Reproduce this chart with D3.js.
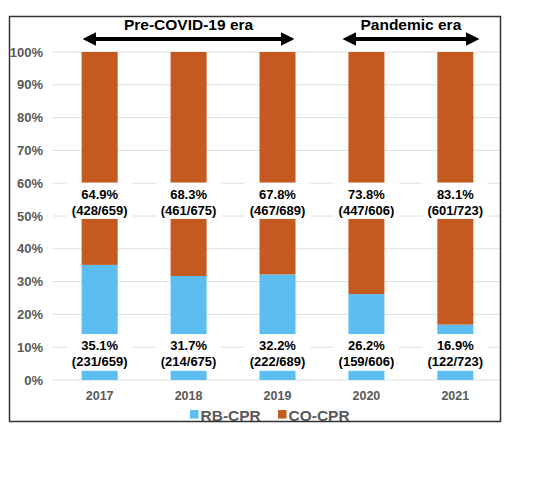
<!DOCTYPE html>
<html>
<head>
<meta charset="utf-8">
<script src="https://cdn.jsdelivr.net/npm/d3@7"></script>
<style>
body { margin: 0; background: #fff; }
text { font-family: "Liberation Sans", Arial, sans-serif; }
</style>
</head>
<body>
<script>
// data
var years = ["2017", "2018", "2019", "2020", "2021"];
var rbPct = [35.1, 31.7, 32.2, 26.2, 16.9];
var coPct = [64.9, 68.3, 67.8, 73.8, 83.1];
var rbLabel = ["(231/659)", "(214/675)", "(222/689)", "(159/606)", "(122/723)"];
var coLabel = ["(428/659)", "(461/675)", "(467/689)", "(447/606)", "(601/723)"];
var yTicks = [0, 10, 20, 30, 40, 50, 60, 70, 80, 90, 100];
var eras = [
  { name: "Pre-COVID-19 era", from: "2017", to: "2019" },
  { name: "Pandemic era", from: "2020", to: "2021" }
];

var blue = "#5bbdf0", brown = "#c55a20";

var svg = d3.select("body").append("svg").attr("width", 533).attr("height", 480);

var x = d3.scaleBand().domain(years).range([55, 500]).paddingInner(0.595).paddingOuter(0.3);
var y = d3.scaleLinear().domain([0, 100]).range([380, 52]);

// gridlines
svg.selectAll("line.grid").data(yTicks).enter().append("line")
  .attr("x1", 53).attr("x2", 500)
  .attr("y1", d => y(d)).attr("y2", d => y(d))
  .style("stroke", "#dedede").style("stroke-width", 1);

// y labels
svg.selectAll("text.ytick").data(yTicks).enter().append("text")
  .attr("x", 43).attr("y", d => y(d)).attr("dy", "0.35em")
  .attr("text-anchor", "end")
  .style("font-size", "13px").style("font-weight", "bold").style("fill", "#595959")
  .text(d => d + "%");

// bars
svg.selectAll("rect.rb").data(years).enter().append("rect")
  .attr("x", d => x(d)).attr("width", x.bandwidth())
  .attr("y", (d, i) => y(rbPct[i])).attr("height", (d, i) => y(0) - y(rbPct[i]))
  .style("fill", blue);
svg.selectAll("rect.co").data(years).enter().append("rect")
  .attr("x", d => x(d)).attr("width", x.bandwidth())
  .attr("y", y(100)).attr("height", (d, i) => y(rbPct[i]) - y(100))
  .style("fill", brown);

// white label boxes
var boxW = 66;
[[49.1, 60.2], [2.8, 14]].forEach(function (b) {
  svg.selectAll(null).data(years).enter().append("rect")
    .attr("x", d => x(d) + x.bandwidth() / 2 - boxW / 2).attr("width", boxW)
    .attr("y", y(b[1])).attr("height", y(b[0]) - y(b[1]))
    .style("fill", "#fff");
});

function labels(pct, cnt, y1) {
  var g = svg.selectAll(null).data(years).enter().append("g")
    .attr("transform", d => "translate(" + (x(d) + x.bandwidth() / 2) + ",0)");
  g.append("text").attr("y", y1).attr("text-anchor", "middle")
    .style("font-size", "13px").style("font-weight", "bold").style("fill", "#000")
    .text((d, i) => pct[i].toFixed(1) + "%");
  g.append("text").attr("y", y1 + 15.5).attr("text-anchor", "middle")
    .style("font-size", "13px").style("font-weight", "bold").style("fill", "#000")
    .text((d, i) => cnt[i]);
}
labels(coPct, coLabel, 199);
labels(rbPct, rbLabel, 350);

// x labels
svg.selectAll("text.xl").data(years).enter().append("text")
  .attr("x", d => x(d) + x.bandwidth() / 2).attr("y", 399.5)
  .attr("text-anchor", "middle")
  .style("font-size", "12.5px").style("font-weight", "bold").style("fill", "#595959")
  .text(d => d);

// legend
var leg = [["RB-CPR", blue, 190], ["CO-CPR", brown, 278]];
leg.forEach(function (l) {
  svg.append("rect").attr("x", l[2]).attr("y", 410).attr("width", 8.5).attr("height", 8.5).style("fill", l[1]);
  svg.append("text").attr("x", l[2] + 10.5).attr("y", 420.5)
    .style("font-size", "15.5px").style("font-weight", "bold").style("fill", "#595959")
    .text(l[0]);
});

// era arrows
svg.append("defs").append("marker")
  .attr("id", "head").attr("viewBox", "0 0 10 10")
  .attr("refX", 2).attr("refY", 5)
  .attr("markerWidth", 3.4).attr("markerHeight", 3.6)
  .attr("orient", "auto-start-reverse").attr("markerUnits", "strokeWidth")
  .append("path").attr("d", "M0,0L10,5L0,10Z").style("fill", "#000");

var tip = 10.9; // head length beyond line end
eras.forEach(function (e, i) {
  var out = i == 0 ? -1 : 6;
  var x1 = x(e.from) - out + tip, x2 = x(e.to) + x.bandwidth() + out - tip;
  svg.append("line").attr("x1", x1).attr("x2", x2).attr("y1", 39).attr("y2", 39)
    .style("stroke", "#000").style("stroke-width", 4)
    .attr("marker-start", "url(#head)").attr("marker-end", "url(#head)");
  svg.append("text").attr("x", (x1 + x2) / 2).attr("y", 29.5)
    .attr("text-anchor", "middle")
    .style("font-size", "15.5px").style("font-weight", "bold").style("fill", "#000")
    .text(e.name);
});

// frame
svg.append("rect").attr("x", 9.5).attr("y", 16.5).attr("width", 491).attr("height", 405)
  .style("fill", "none").style("stroke", "#333").style("stroke-width", 1.5);
</script>
</body>
</html>
